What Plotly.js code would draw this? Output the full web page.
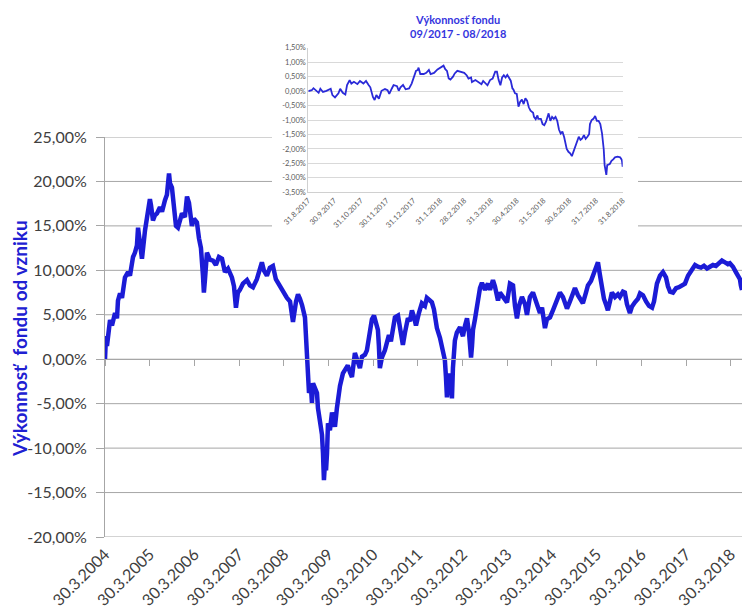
<!DOCTYPE html>
<html>
<head>
<meta charset="utf-8">
<script src="https://cdn.plot.ly/plotly-3.0.1.min.js"></script>
<style>
  html, body { margin: 0; padding: 0; background: #ffffff; }
  #chart { width: 742px; height: 612px; }
</style>
</head>
<body>
<div id="chart"></div>
<script>
// ---------- Main chart data (fund performance since inception, %) ----------
const mainDates = [
"2004-03-30","2004-04-07","2004-04-15","2004-04-24","2004-05-10","2004-05-26","2004-06-20","2004-07-06","2004-07-14","2004-07-31",
"2004-08-16","2004-09-09","2004-10-04","2004-10-20","2004-11-14","2004-11-30","2004-12-16","2004-12-25","2005-01-10","2005-01-26",
"2005-02-20","2005-03-16","2005-04-01","2005-04-10","2005-04-26","2005-05-12","2005-05-29","2005-06-22","2005-07-09","2005-08-02",
"2005-08-18","2005-09-04","2005-09-12","2005-09-28","2005-10-15","2005-10-31","2005-11-16","2005-12-03","2005-12-19","2006-01-12",
"2006-01-29","2006-02-14","2006-03-10","2006-03-27","2006-04-20","2006-05-07","2006-05-23","2006-06-08","2006-06-16","2006-06-25",
"2006-07-11","2006-08-04","2006-08-29","2006-09-22","2006-10-17","2006-11-11","2006-12-05","2006-12-30","2007-01-31","2007-02-17",
"2007-03-05","2007-03-21","2007-04-06","2007-05-01","2007-06-03","2007-06-27","2007-07-22","2007-08-23","2007-09-17","2007-10-03",
"2007-10-19","2007-11-13","2007-12-07","2008-01-01","2008-01-25","2008-02-28","2008-03-23","2008-04-25","2008-05-20","2008-06-13",
"2008-07-08","2008-07-24","2008-08-09","2008-08-26","2008-09-19","2008-09-27","2008-10-06","2008-10-14","2008-10-22","2008-11-07",
"2008-11-15","2008-11-24","2008-12-10","2008-12-26","2009-01-03","2009-01-20","2009-02-05","2009-02-13","2009-02-21","2009-03-02",
"2009-03-10","2009-03-18","2009-03-26","2009-04-11","2009-04-28","2009-05-14","2009-05-22","2009-06-07","2009-06-16","2009-07-02",
"2009-07-26","2009-08-12","2009-09-04","2009-09-22","2009-10-08","2009-11-01","2009-11-18","2009-12-12","2009-12-29","2010-01-22",
"2010-02-07","2010-02-24","2010-03-04","2010-03-20","2010-04-06","2010-04-22","2010-05-08","2010-05-16","2010-05-24","2010-06-10",
"2010-07-04","2010-07-21","2010-08-06","2010-08-22","2010-09-08","2010-09-24","2010-10-19","2010-11-04","2010-11-28","2010-12-15",
"2011-01-08","2011-01-25","2011-02-10","2011-02-26","2011-03-15","2011-04-08","2011-05-02","2011-05-27","2011-06-12","2011-07-07",
"2011-07-23","2011-08-09","2011-08-17","2011-09-02","2011-09-27","2011-10-13","2011-11-06","2011-11-15","2011-11-23","2011-12-01",
"2011-12-17","2011-12-25","2012-01-03","2012-01-11","2012-01-27","2012-02-12","2012-03-09","2012-03-25","2012-04-02","2012-04-19",
"2012-05-05","2012-05-21","2012-06-07","2012-06-15","2012-06-23","2012-07-09","2012-07-26","2012-08-11","2012-08-19","2012-09-04",
"2012-09-29","2012-10-15","2012-10-23","2012-11-09","2012-12-03","2012-12-19","2013-01-13","2013-01-29","2013-02-23","2013-03-28",
"2013-04-21","2013-05-16","2013-06-01","2013-06-17","2013-07-04","2013-07-28","2013-08-22","2013-09-07","2013-10-01","2013-10-26",
"2013-11-20","2013-12-22","2014-01-08","2014-02-01","2014-02-17","2014-03-14","2014-04-07","2014-05-02","2014-06-03","2014-06-28",
"2014-07-31","2014-08-24","2014-09-18","2014-10-04","2014-10-28","2014-11-14","2014-12-08","2015-01-02","2015-01-18","2015-02-12",
"2015-03-08","2015-03-24","2015-04-10","2015-04-26","2015-05-12","2015-05-29","2015-06-14","2015-06-30","2015-07-17","2015-08-02",
"2015-08-27","2015-09-20","2015-10-06","2015-10-31","2015-11-16","2015-12-03","2015-12-27","2016-01-12","2016-02-06","2016-03-02",
"2016-03-19","2016-04-12","2016-05-07","2016-05-31","2016-06-25","2016-07-11","2016-08-04","2016-08-29","2016-09-22","2016-10-17",
"2016-11-02","2016-11-19","2016-12-13","2017-01-07","2017-01-31","2017-02-25","2017-03-21","2017-04-15","2017-05-01","2017-05-17",
"2017-06-11","2017-07-05","2017-07-30","2017-08-23","2017-09-17","2017-10-11","2017-11-05","2017-11-29","2017-12-24","2018-01-17",
"2018-02-11","2018-03-07","2018-03-23","2018-04-17","2018-05-11","2018-05-28","2018-06-13","2018-06-21","2018-06-30"
];
const mainValues = [
0.0,2.6,1.5,3.0,4.4,3.8,5.2,4.6,6.6,7.4,
6.9,9.2,9.8,9.4,11.5,12.0,12.8,14.8,12.4,11.3,
14.5,16.7,18.0,17.3,15.6,16.2,16.4,17.1,16.6,17.9,
18.5,20.9,19.8,19.3,17.0,15.0,14.8,15.8,16.4,16.0,
18.3,17.6,15.0,15.8,15.4,13.6,12.5,9.5,7.5,9.0,
12.0,11.2,11.1,10.6,11.5,11.3,9.8,10.2,9.2,8.2,
5.8,7.5,7.8,8.5,8.9,8.3,8.1,9.0,10.2,10.9,
10.0,9.4,10.3,10.5,9.0,8.2,7.5,6.9,6.5,4.2,
6.5,7.3,6.8,6.1,4.7,3.0,1.3,-2.0,-3.8,-3.2,
-4.9,-2.7,-3.2,-3.8,-5.5,-6.9,-8.5,-10.5,-13.6,-11.5,
-12.5,-10.6,-7.2,-8.0,-6.0,-7.0,-7.6,-5.5,-4.3,-3.0,
-1.6,-1.2,-0.7,-1.5,-2.0,0.7,-0.2,-1.0,0.3,0.5,
1.0,2.5,3.6,4.5,4.9,4.2,3.3,1.5,-1.0,0.2,
1.0,1.9,2.7,2.0,3.8,4.7,4.9,3.8,1.6,3.0,
4.6,4.3,5.5,4.8,3.8,5.2,6.3,6.0,6.9,6.6,
6.4,5.6,4.6,3.5,2.4,1.5,-0.1,-2.0,-4.3,-2.5,
-1.6,-3.0,-4.4,-1.0,2.1,3.0,3.6,2.9,2.6,3.8,
4.6,3.0,0.2,1.5,3.3,4.5,6.1,7.5,8.0,8.6,
7.8,8.3,8.5,7.8,8.9,8.2,6.6,7.5,7.0,6.4,
8.5,8.3,6.0,4.6,6.0,7.0,6.2,5.0,7.0,7.5,
6.5,5.2,5.8,3.5,4.5,4.7,5.5,6.5,7.5,7.0,
5.7,6.5,7.4,8.0,7.2,6.8,6.3,7.5,8.3,8.8,
9.7,10.3,10.9,9.5,7.8,6.8,6.2,5.5,6.5,7.5,
7.0,7.3,7.0,7.6,7.5,6.2,5.2,5.9,6.4,6.8,
7.4,7.2,6.5,6.0,5.8,6.5,8.5,9.4,9.8,9.2,
8.2,7.6,7.5,8.0,8.1,8.3,8.5,9.4,9.8,10.2,
10.6,10.4,10.3,10.5,10.2,10.4,10.6,10.5,10.9,11.1,
10.9,10.7,10.8,10.4,9.8,9.4,9.0,8.3,7.8
];
const mainXRange = ["2004-03-30", "2018-06-30"];
const mainXTickDates = ["2004-03-30","2005-03-30","2006-03-30","2007-03-30","2008-03-30","2009-03-30","2010-03-30",
                        "2011-03-30","2012-03-30","2013-03-30","2014-03-30","2015-03-30","2016-03-30","2017-03-30","2018-03-30"];
const mainXTickText = ["30.3.2004","30.3.2005","30.3.2006","30.3.2007","30.3.2008","30.3.2009","30.3.2010",
                       "30.3.2011","30.3.2012","30.3.2013","30.3.2014","30.3.2015","30.3.2016","30.3.2017","30.3.2018"];
const mainYTicks = [-20,-15,-10,-5,0,5,10,15,20,25];
const mainYTickText = ["-20,00%","-15,00%","-10,00%","-5,00%","0,00%","5,00%","10,00%","15,00%","20,00%","25,00%"];
const mainYTitle = "Výkonnosť  fondu od vzniku";

// ---------- Inset data (last 12 months, %) ----------
const insetDates = [
"2017-08-31","2017-09-04","2017-09-06","2017-09-09","2017-09-12","2017-09-14","2017-09-17","2017-09-21","2017-09-26","2017-09-28",
"2017-10-01","2017-10-05","2017-10-07","2017-10-10","2017-10-13","2017-10-15","2017-10-18","2017-10-20","2017-10-23","2017-10-27",
"2017-10-30","2017-11-03","2017-11-06","2017-11-09","2017-11-11","2017-11-14","2017-11-16","2017-11-18","2017-11-21","2017-11-24",
"2017-11-28","2017-12-01","2017-12-03","2017-12-06","2017-12-08","2017-12-12","2017-12-14","2017-12-16","2017-12-19","2017-12-22",
"2017-12-26","2017-12-29","2018-01-01","2018-01-03","2018-01-05","2018-01-06","2018-01-08","2018-01-12","2018-01-15","2018-01-18",
"2018-01-20","2018-01-24","2018-01-28","2018-01-31","2018-02-04","2018-02-06","2018-02-08","2018-02-10","2018-02-12","2018-02-15",
"2018-02-17","2018-02-20","2018-02-24","2018-02-28","2018-03-03","2018-03-05","2018-03-08","2018-03-09","2018-03-13","2018-03-17",
"2018-03-20","2018-03-22","2018-03-25","2018-03-27","2018-03-30","2018-04-02","2018-04-05","2018-04-07","2018-04-09","2018-04-11",
"2018-04-13","2018-04-15","2018-04-17","2018-04-19","2018-04-21","2018-04-23","2018-04-25","2018-04-26","2018-04-28","2018-04-30",
"2018-05-02","2018-05-04","2018-05-06","2018-05-08","2018-05-10","2018-05-12","2018-05-14","2018-05-16","2018-05-19","2018-05-20",
"2018-05-22","2018-05-24","2018-05-25","2018-05-28","2018-05-30","2018-06-01","2018-06-03","2018-06-05","2018-06-06","2018-06-08",
"2018-06-10","2018-06-12","2018-06-14","2018-06-16","2018-06-18","2018-06-20","2018-06-22","2018-06-24","2018-06-25","2018-06-27",
"2018-06-29","2018-07-01","2018-07-03","2018-07-05","2018-07-07","2018-07-09","2018-07-11","2018-07-13","2018-07-15","2018-07-17",
"2018-07-19","2018-07-21","2018-07-23","2018-07-24","2018-07-26","2018-07-28","2018-07-30","2018-08-01","2018-08-03","2018-08-05",
"2018-08-07","2018-08-09","2018-08-10","2018-08-12","2018-08-13","2018-08-16","2018-08-18","2018-08-20","2018-08-22","2018-08-25",
"2018-08-28","2018-08-30","2018-08-31"
];
const insetValues = [
0.00,0.03,0.10,0.01,-0.06,0.08,-0.03,0.01,0.08,-0.14,
-0.22,-0.08,0.08,-0.06,-0.12,0.21,0.38,0.26,0.32,0.24,
0.35,0.26,0.35,0.21,0.13,-0.20,-0.31,-0.14,-0.26,0.01,
0.07,0.03,-0.10,0.09,0.21,0.17,0.01,0.13,0.21,0.06,
0.09,0.26,0.50,0.70,0.73,0.81,0.59,0.59,0.63,0.73,
0.59,0.63,0.75,0.81,0.88,0.76,0.70,0.44,0.40,0.50,
0.61,0.70,0.67,0.63,0.54,0.43,0.47,0.31,0.38,0.31,
0.24,0.35,0.24,0.20,0.38,0.43,0.67,0.67,0.38,0.20,
0.47,0.55,0.47,0.56,0.46,0.36,0.09,0.06,-0.08,-0.10,
-0.54,-0.37,-0.29,-0.45,-0.25,-0.33,-0.56,-0.68,-0.75,-0.89,
-0.97,-0.84,-0.96,-0.96,-1.14,-1.18,-1.06,-0.86,-0.77,-1.03,
-0.89,-0.96,-0.89,-1.03,-1.33,-1.47,-1.40,-1.59,-1.72,-2.00,
-2.10,-2.15,-2.25,-2.10,-1.92,-1.75,-1.58,-1.69,-1.64,-1.52,
-1.65,-1.58,-1.49,-1.14,-1.00,-0.96,-0.86,-1.03,-1.03,-1.14,
-1.46,-2.02,-2.56,-2.90,-2.56,-2.52,-2.41,-2.36,-2.29,-2.27,
-2.29,-2.38,-2.62
];
const insetXTickDates = ["2017-08-31","2017-09-30","2017-10-31","2017-11-30","2017-12-31","2018-01-31","2018-02-28",
                         "2018-03-31","2018-04-30","2018-05-31","2018-06-30","2018-07-31","2018-08-31"];
const insetXTickText = ["31.8.2017","30.9.2017","31.10.2017","30.11.2017","31.12.2017","31.1.2018","28.2.2018",
                        "31.3.2018","30.4.2018","31.5.2018","30.6.2018","31.7.2018","31.8.2018"];
const insetYTicks = [-3.5,-3,-2.5,-2,-1.5,-1,-0.5,0,0.5,1,1.5];
const insetYTickText = ["-3,50%","-3,00%","-2,50%","-2,00%","-1,50%","-1,00%","-0,50%","0,00%","0,50%","1,00%","1,50%"];
const insetTitle = "Výkonnosť fondu<br>09/2017 - 08/2018";

// ---------- Layout geometry ----------
const W = 742, H = 612;
const M = {l: 105, r: 0, t: 10, b: 75};
const plotW = W - M.l - M.r, plotH = H - M.t - M.b;
const px2fx = x => (x - M.l) / plotW;
const px2fy = y => (H - M.b - y) / plotH;

const mainYRange = [mainYTicks[0], mainYTicks[mainYTicks.length - 1]];
const mainDomTop = px2fy(137);
const zeroPos = mainDomTop * (0 - mainYRange[0]) / (mainYRange[1] - mainYRange[0]);

const gridColor = '#a6a6a6';
const lineBlue = '#1b1bd6';
const font = 'Lato, "Open Sans", sans-serif';

const shapes = mainYTicks.map(v => ({
  type: 'line', xref: 'paper', yref: 'y', x0: 0, x1: 1, y0: v, y1: v,
  line: {color: gridColor, width: 1}, layer: 'below'
}));
// white backing panel of the inset chart
shapes.push({
  type: 'rect', xref: 'paper', yref: 'paper',
  x0: px2fx(272), x1: px2fx(638), y0: px2fy(230), y1: 1,
  fillcolor: '#ffffff', line: {width: 0}, layer: 'below'
});

const traces = [
  {
    x: mainDates, y: mainValues, type: 'scatter', mode: 'lines',
    line: {color: lineBlue, width: 4.5}, xaxis: 'x', yaxis: 'y',
    hoverinfo: 'skip', showlegend: false
  },
  {
    x: [mainDates[0]], y: [null], type: 'scatter', mode: 'lines',
    xaxis: 'x3', yaxis: 'y', hoverinfo: 'skip', showlegend: false
  },
  {
    x: insetDates, y: insetValues, type: 'scatter', mode: 'lines',
    line: {color: '#2a2ad8', width: 1.8}, xaxis: 'x2', yaxis: 'y2',
    hoverinfo: 'skip', showlegend: false
  }
];

const layout = {
  width: W, height: H,
  margin: M,
  paper_bgcolor: '#ffffff', plot_bgcolor: '#ffffff',
  showlegend: false,
  font: {family: font, color: '#404040'},
  xaxis: {
    type: 'date', range: mainXRange, domain: [0, 1], anchor: 'y',
    tickmode: 'array', tickvals: mainXTickDates, ticktext: mainXTickText,
    tickangle: -45, tickfont: {size: 16, color: '#404040', family: font},
    showgrid: false, zeroline: false, showline: false, ticks: '',
    ticklabelstandoff: 4
  },
  xaxis3: {
    type: 'date', range: mainXRange, overlaying: 'x', anchor: 'free', position: zeroPos,
    tickmode: 'array', tickvals: mainXTickDates, showticklabels: false,
    ticks: 'outside', ticklen: 6, tickcolor: gridColor, tickwidth: 1,
    showline: true, linecolor: gridColor, linewidth: 1, showgrid: false, zeroline: false
  },
  yaxis: {
    range: mainYRange, domain: [0, mainDomTop], anchor: 'x',
    tickmode: 'array', tickvals: mainYTicks, ticktext: mainYTickText,
    tickfont: {size: 16, color: '#404040', family: font},
    showgrid: false, zeroline: false,
    showline: true, linecolor: gridColor, linewidth: 1,
    ticks: 'outside', ticklen: 8, tickcolor: gridColor, tickwidth: 1,
    ticklabelstandoff: 6
  },
  xaxis2: {
    type: 'date', range: [insetXTickDates[0], insetXTickDates[insetXTickDates.length - 1]],
    domain: [px2fx(308.3), px2fx(622.7)], anchor: 'y2',
    tickmode: 'array', tickvals: insetXTickDates, ticktext: insetXTickText,
    tickangle: -45, tickfont: {size: 7.5, color: '#595959', family: font},
    showgrid: false, zeroline: false, showline: true, linecolor: '#d0d0d0', ticks: ''
  },
  yaxis2: {
    range: [insetYTicks[0], insetYTicks[insetYTicks.length - 1]],
    domain: [px2fy(192.3), px2fy(47.7)], anchor: 'x2',
    tickmode: 'array', tickvals: insetYTicks, ticktext: insetYTickText,
    tickfont: {size: 7.5, color: '#595959', family: font},
    showgrid: true, gridcolor: '#d9d9d9', gridwidth: 1, zeroline: false,
    showline: true, linecolor: '#d0d0d0', ticks: ''
  },
  shapes: shapes,
  annotations: [
    {
      text: mainYTitle, textangle: -90, xref: 'paper', yref: 'paper',
      x: px2fx(20), y: px2fy(338), xanchor: 'center', yanchor: 'middle', showarrow: false,
      font: {size: 19, color: '#2020d2', family: font, weight: 'bold'}
    },
    {
      text: insetTitle, xref: 'paper', yref: 'paper',
      x: px2fx(458), y: px2fy(27), xanchor: 'center', yanchor: 'middle', showarrow: false,
      font: {size: 11, color: '#3535de', family: font, weight: 'bold'}
    }
  ]
};

Plotly.newPlot('chart', traces, layout, {displayModeBar: false, staticPlot: true});
</script>
</body>
</html>
